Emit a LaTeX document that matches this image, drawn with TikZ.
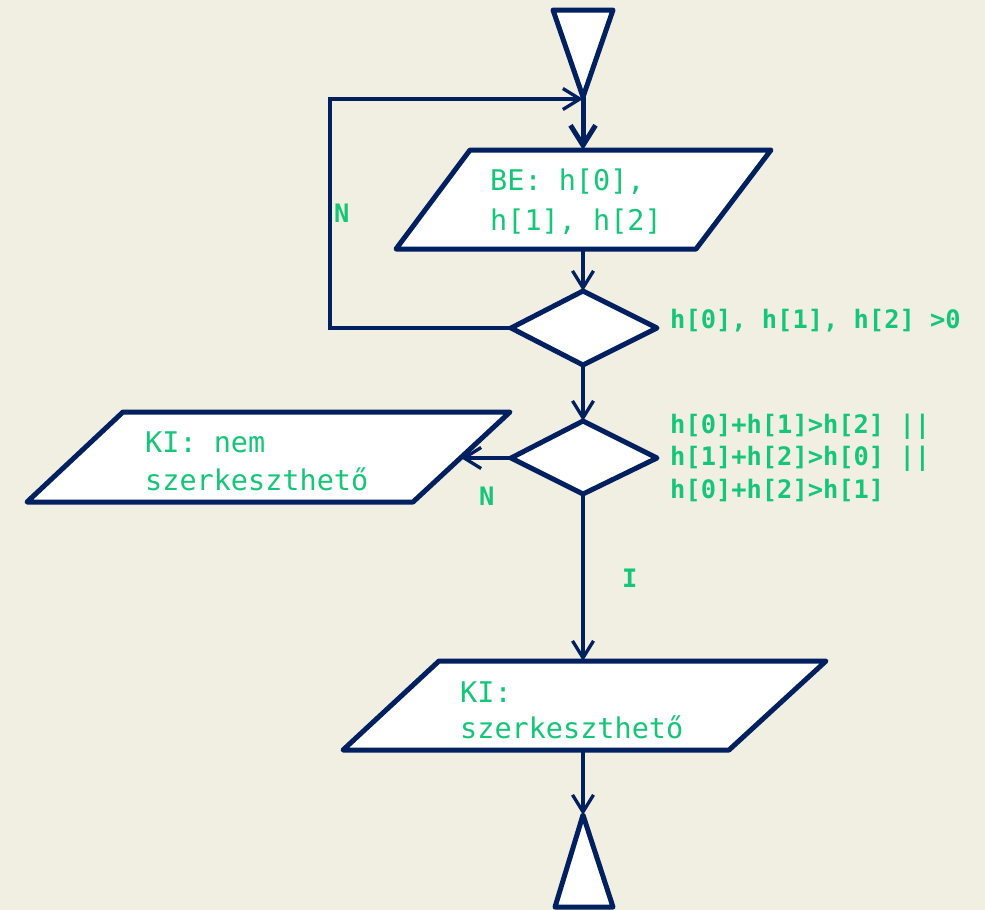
\documentclass[tikz,border=0pt]{standalone}
\usepackage{fontspec}
\setmonofont{DejaVu Sans Mono}
\usetikzlibrary{arrows.meta}
\definecolor{bg}{RGB}{241,239,226}
\definecolor{navy}{RGB}{0,32,96}
\definecolor{mint}{RGB}{22,198,120}
\tikzset{
  shapeline/.style={draw=navy, fill=white, line width=5pt, line join=round},
  flow/.style={draw=navy, line width=3.3pt, -{Straight Barb[length=17pt,width=21pt,line width=3.3pt]}},
  boxtext/.style={text=mint, font=\ttfamily\fontsize{28.5}{38}\selectfont, align=left, inner sep=0pt, anchor=base west},
  condtext/.style={text=mint, font=\ttfamily\bfseries\fontsize{25.4}{32.5}\selectfont, align=left, inner sep=0pt, anchor=base west}
}
\begin{document}
\begin{tikzpicture}[x=1pt,y=-1pt]
  \fill[bg] (0,0) rectangle (985,910);
  \useasboundingbox (0,0) rectangle (985,910);

  % start triangle
  \draw[shapeline] (553,10) -- (613,10) -- (583,97) -- cycle;
  \coordinate (start) at (583,97);

  % input parallelogram
  \draw[shapeline] (470,150) -- (771,150) -- (696,249) -- (396,249) -- cycle;
  \coordinate (in-top) at (583,150);
  \coordinate (in-bot) at (583,249);
  \node[boxtext, font=\ttfamily\fontsize{28.5}{40}\selectfont] (intext) at (490,230) {BE: h[0],\\h[1], h[2]};

  % positivity test
  \draw[shapeline] (583,291) -- (657,328) -- (583,365) -- (511,328) -- cycle;
  \coordinate (d1-top) at (583,291);
  \coordinate (d1-bot) at (583,365);
  \coordinate (d1-left) at (511,328);
  \node[condtext] (c1) at (670,328) {h[0], h[1], h[2] >0};

  % triangle inequality test
  \draw[shapeline] (583,421) -- (657,458) -- (583,494) -- (511,458) -- cycle;
  \coordinate (d2-top) at (583,421);
  \coordinate (d2-bot) at (583,494);
  \coordinate (d2-left) at (511,458);
  \node[condtext] (c2) at (670,498) {h[0]+h[1]>h[2] ||\\h[1]+h[2]>h[0] ||\\h[0]+h[2]>h[1]};

  % output: not constructible
  \draw[shapeline] (123,412) -- (510,412) -- (413,502) -- (27,502) -- cycle;
  \coordinate (no-right) at (461,458);
  \node[boxtext] (notext) at (145,490) {KI: nem\\szerkeszthető};

  % output: constructible
  \draw[shapeline] (439,661) -- (826,661) -- (729,750) -- (343,750) -- cycle;
  \coordinate (yes-top) at (583,661);
  \coordinate (yes-bot) at (583,750);
  \node[boxtext, font=\ttfamily\fontsize{28.5}{36}\selectfont] (yestext) at (460,738) {KI:\\szerkeszthető};

  % end triangle
  \draw[shapeline] (583,815) -- (613,907) -- (555,907) -- cycle;
  \coordinate (stop) at (583,815);

  % connectors
  \coordinate (loop-a) at (330,328);
  \coordinate (loop-b) at (330,99);
  \coordinate (loop-c) at (583,99);
  \draw[flow, line width=5pt, -{Straight Barb[length=20pt,width=25pt,line width=5pt]}] (start) -- (in-top);
  \draw[flow] (d1-left) -- (loop-a) -- (loop-b) -- (loop-c);
  \draw[flow] (in-bot) -- (d1-top);
  \draw[flow] (d1-bot) -- (d2-top);
  \draw[flow] (d2-left) -- (no-right);
  \draw[flow] (d2-bot) -- (yes-top);
  \draw[flow] (yes-bot) -- (stop);

  % branch labels
  \node[condtext] (n1) at (334,222) {N};
  \node[condtext] (n2) at (479,505) {N};
  \node[condtext] (i1) at (622,587) {I};
\end{tikzpicture}
\end{document}
